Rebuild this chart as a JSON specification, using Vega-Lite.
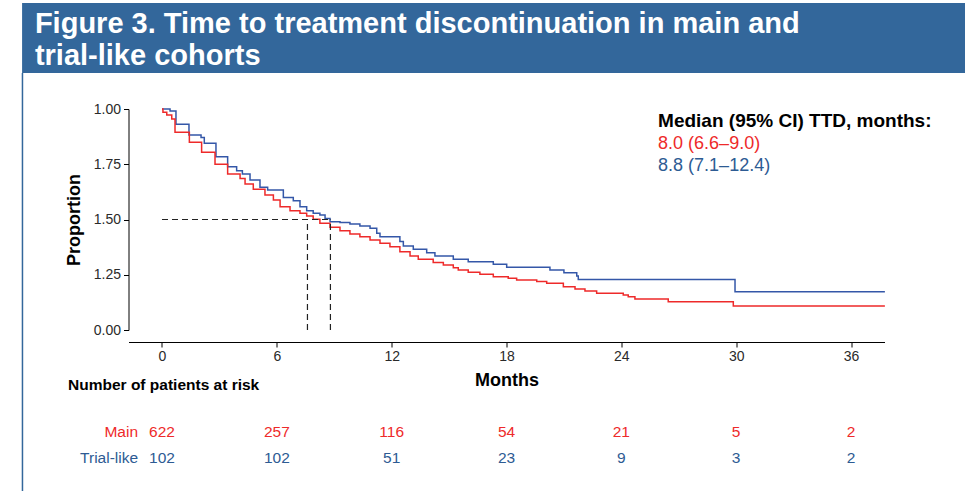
{
  "$schema": "https://vega.github.io/schema/vega-lite/v6.json",
  "width": 756,
  "height": 221,
  "autosize": {"type": "none"},
  "padding": {"left": 128.5, "top": 109, "right": 80.5, "bottom": 161},
  "background": "white",
  "config": {
    "view": {"stroke": null},
    "font": "Liberation Sans",
    "axis": {
      "domainColor": "#000000", "tickColor": "#000000", "labelColor": "#2a2a2a",
      "labelFont": "Liberation Sans", "labelFontSize": 14, "titleFont": "Liberation Sans",
      "titleFontSize": 18, "titleFontWeight": "bold", "titleColor": "#000000",
      "grid": false, "tickSize": 5, "labelFlush": false, "labelOverlap": false
    }
  },
  "datasets": {
    "one": [{}],
    "km": [
      {"group": "Trial-like", "month": 0, "prop": 1.0},
      {"group": "Trial-like", "month": 0.42, "prop": 0.991},
      {"group": "Trial-like", "month": 0.73, "prop": 0.931},
      {"group": "Trial-like", "month": 1.41, "prop": 0.882},
      {"group": "Trial-like", "month": 2.04, "prop": 0.871},
      {"group": "Trial-like", "month": 2.21, "prop": 0.845},
      {"group": "Trial-like", "month": 2.82, "prop": 0.784},
      {"group": "Trial-like", "month": 3.43, "prop": 0.739},
      {"group": "Trial-like", "month": 3.9, "prop": 0.721},
      {"group": "Trial-like", "month": 4.2, "prop": 0.706},
      {"group": "Trial-like", "month": 4.6, "prop": 0.679},
      {"group": "Trial-like", "month": 5.12, "prop": 0.646},
      {"group": "Trial-like", "month": 5.52, "prop": 0.633},
      {"group": "Trial-like", "month": 6.34, "prop": 0.6},
      {"group": "Trial-like", "month": 6.86, "prop": 0.585},
      {"group": "Trial-like", "month": 7.21, "prop": 0.558},
      {"group": "Trial-like", "month": 7.56, "prop": 0.54},
      {"group": "Trial-like", "month": 7.9, "prop": 0.528},
      {"group": "Trial-like", "month": 8.25, "prop": 0.52},
      {"group": "Trial-like", "month": 8.52, "prop": 0.505},
      {"group": "Trial-like", "month": 8.78, "prop": 0.49},
      {"group": "Trial-like", "month": 9.3, "prop": 0.486},
      {"group": "Trial-like", "month": 9.82, "prop": 0.48},
      {"group": "Trial-like", "month": 10.34, "prop": 0.471},
      {"group": "Trial-like", "month": 10.87, "prop": 0.46},
      {"group": "Trial-like", "month": 11.22, "prop": 0.438},
      {"group": "Trial-like", "month": 11.39, "prop": 0.422},
      {"group": "Trial-like", "month": 12.43, "prop": 0.4},
      {"group": "Trial-like", "month": 12.61, "prop": 0.38},
      {"group": "Trial-like", "month": 13.13, "prop": 0.365},
      {"group": "Trial-like", "month": 13.83, "prop": 0.35},
      {"group": "Trial-like", "month": 14.26, "prop": 0.335},
      {"group": "Trial-like", "month": 15.22, "prop": 0.32},
      {"group": "Trial-like", "month": 16.0, "prop": 0.309},
      {"group": "Trial-like", "month": 17.31, "prop": 0.297},
      {"group": "Trial-like", "month": 18.01, "prop": 0.284},
      {"group": "Trial-like", "month": 20.27, "prop": 0.271},
      {"group": "Trial-like", "month": 21.0, "prop": 0.259},
      {"group": "Trial-like", "month": 21.67, "prop": 0.244},
      {"group": "Trial-like", "month": 21.75, "prop": 0.229},
      {"group": "Trial-like", "month": 29.94, "prop": 0.173},
      {"group": "Trial-like", "month": 37.77, "prop": 0.173},
      {"group": "Main", "month": 0, "prop": 1.0},
      {"group": "Main", "month": 0.05, "prop": 0.985},
      {"group": "Main", "month": 0.25, "prop": 0.973},
      {"group": "Main", "month": 0.51, "prop": 0.955},
      {"group": "Main", "month": 0.68, "prop": 0.895},
      {"group": "Main", "month": 1.43, "prop": 0.849},
      {"group": "Main", "month": 2.07, "prop": 0.804},
      {"group": "Main", "month": 2.77, "prop": 0.75},
      {"group": "Main", "month": 3.43, "prop": 0.706},
      {"group": "Main", "month": 4.08, "prop": 0.686},
      {"group": "Main", "month": 4.34, "prop": 0.661},
      {"group": "Main", "month": 4.77, "prop": 0.637},
      {"group": "Main", "month": 5.38, "prop": 0.611},
      {"group": "Main", "month": 5.82, "prop": 0.588},
      {"group": "Main", "month": 6.17, "prop": 0.558},
      {"group": "Main", "month": 6.69, "prop": 0.54},
      {"group": "Main", "month": 7.21, "prop": 0.528},
      {"group": "Main", "month": 7.56, "prop": 0.516},
      {"group": "Main", "month": 7.9, "prop": 0.501},
      {"group": "Main", "month": 8.25, "prop": 0.483},
      {"group": "Main", "month": 8.78, "prop": 0.465},
      {"group": "Main", "month": 9.3, "prop": 0.449},
      {"group": "Main", "month": 9.82, "prop": 0.434},
      {"group": "Main", "month": 10.34, "prop": 0.422},
      {"group": "Main", "month": 10.87, "prop": 0.407},
      {"group": "Main", "month": 11.39, "prop": 0.392},
      {"group": "Main", "month": 11.91, "prop": 0.377},
      {"group": "Main", "month": 12.43, "prop": 0.354},
      {"group": "Main", "month": 12.96, "prop": 0.335},
      {"group": "Main", "month": 13.39, "prop": 0.32},
      {"group": "Main", "month": 14.17, "prop": 0.305},
      {"group": "Main", "month": 14.7, "prop": 0.294},
      {"group": "Main", "month": 15.22, "prop": 0.282},
      {"group": "Main", "month": 15.48, "prop": 0.271},
      {"group": "Main", "month": 16.0, "prop": 0.261},
      {"group": "Main", "month": 16.61, "prop": 0.252},
      {"group": "Main", "month": 17.31, "prop": 0.241},
      {"group": "Main", "month": 18.09, "prop": 0.234},
      {"group": "Main", "month": 18.53, "prop": 0.226},
      {"group": "Main", "month": 19.58, "prop": 0.219},
      {"group": "Main", "month": 20.1, "prop": 0.211},
      {"group": "Main", "month": 20.97, "prop": 0.196},
      {"group": "Main", "month": 21.58, "prop": 0.186},
      {"group": "Main", "month": 22.1, "prop": 0.176},
      {"group": "Main", "month": 22.71, "prop": 0.166},
      {"group": "Main", "month": 24.1, "prop": 0.158},
      {"group": "Main", "month": 24.36, "prop": 0.151},
      {"group": "Main", "month": 24.71, "prop": 0.14},
      {"group": "Main", "month": 26.45, "prop": 0.128},
      {"group": "Main", "month": 29.85, "prop": 0.109},
      {"group": "Main", "month": 37.77, "prop": 0.109}
    ],
    "medians": [
      {"group": "Main", "median": 7.6},
      {"group": "Trial-like", "median": 8.8}
    ],
    "risk": [
      {"group": "Main", "month": 0, "n": 622},
      {"group": "Main", "month": 6, "n": 257},
      {"group": "Main", "month": 12, "n": 116},
      {"group": "Main", "month": 18, "n": 54},
      {"group": "Main", "month": 24, "n": 21},
      {"group": "Main", "month": 30, "n": 5},
      {"group": "Main", "month": 36, "n": 2},
      {"group": "Trial-like", "month": 0, "n": 102},
      {"group": "Trial-like", "month": 6, "n": 102},
      {"group": "Trial-like", "month": 12, "n": 51},
      {"group": "Trial-like", "month": 18, "n": 23},
      {"group": "Trial-like", "month": 24, "n": 9},
      {"group": "Trial-like", "month": 30, "n": 3},
      {"group": "Trial-like", "month": 36, "n": 2}
    ]
  },
  "layer": [
    {
      "data": {"name": "one"},
      "mark": {"type": "rect", "color": "#33679b"},
      "encoding": {
        "x": {"datum": -7.31, "type": "quantitative"},
        "x2": {"datum": 41.96},
        "y": {"datum": 1.48, "type": "quantitative"},
        "y2": {"datum": 1.163}
      }
    },
    {
      "data": {"name": "one"},
      "mark": {"type": "rule", "color": "#33679b", "strokeWidth": 1.5},
      "encoding": {
        "x": {"datum": -7.29, "type": "quantitative"},
        "y": {"datum": 1.163, "type": "quantitative"},
        "y2": {"datum": -0.735}
      }
    },
    {
      "data": {"name": "one"},
      "mark": {"type": "text", "text": ["Figure 3. Time to treatment discontinuation in main and", "trial-like cohorts"], "align": "left", "baseline": "alphabetic", "fontSize": 29, "fontWeight": "bold", "color": "#ffffff", "lineHeight": 32},
      "encoding": {
        "x": {"datum": -6.64, "type": "quantitative"},
        "y": {"datum": 1.344, "type": "quantitative"}
      }
    },
    {
      "data": {"name": "km"},
      "mark": {"type": "line", "interpolate": "step-after", "strokeWidth": 1.5},
      "encoding": {
        "x": {
          "field": "month", "type": "quantitative",
          "scale": {"domain": [-1.75, 37.75], "nice": false, "zero": false},
          "axis": {"title": "Months", "values": [0, 6, 12, 18, 24, 30, 36], "offset": 12, "labelPadding": 2, "titlePadding": 8}
        },
        "y": {
          "field": "prop", "type": "quantitative",
          "scale": {"domain": [0, 1], "nice": false, "zero": false},
          "axis": {"title": "Proportion", "values": [0, 0.25, 0.5, 0.75, 1], "labelExpr": "datum.value == 0 ? '0.00' : '1' + substring(format(datum.value, '.2f'), 1)", "labelPadding": 3, "titlePadding": 10}
        },
        "color": {
          "field": "group", "type": "nominal",
          "scale": {"domain": ["Main", "Trial-like"], "range": ["#ee2a2a", "#3457a8"]},
          "legend": null
        }
      }
    },
    {
      "data": {"name": "one"},
      "mark": {"type": "rule", "color": "#222222", "strokeDash": [6, 4], "strokeWidth": 1.2},
      "encoding": {
        "x": {"datum": 0, "type": "quantitative"},
        "x2": {"datum": 8.8},
        "y": {"datum": 0.5, "type": "quantitative"}
      }
    },
    {
      "data": {"name": "medians"},
      "mark": {"type": "rule", "color": "#222222", "strokeDash": [6, 4], "strokeWidth": 1.2},
      "encoding": {
        "x": {"field": "median", "type": "quantitative"},
        "y": {"datum": 0, "type": "quantitative"},
        "y2": {"datum": 0.5}
      }
    },
    {
      "data": {"name": "one"},
      "mark": {"type": "text", "text": "Median (95% CI) TTD, months:", "align": "left", "baseline": "alphabetic", "fontSize": 19, "fontWeight": "bold", "color": "#000000"},
      "encoding": {
        "x": {"datum": 25.92, "type": "quantitative"},
        "y": {"datum": 0.919, "type": "quantitative"}
      }
    },
    {
      "data": {"name": "one"},
      "mark": {"type": "text", "text": "8.0 (6.6–9.0)", "align": "left", "baseline": "alphabetic", "fontSize": 18, "color": "#ee2a2a"},
      "encoding": {
        "x": {"datum": 25.92, "type": "quantitative"},
        "y": {"datum": 0.819, "type": "quantitative"}
      }
    },
    {
      "data": {"name": "one"},
      "mark": {"type": "text", "text": "8.8 (7.1–12.4)", "align": "left", "baseline": "alphabetic", "fontSize": 18, "color": "#2d5b93"},
      "encoding": {
        "x": {"datum": 25.92, "type": "quantitative"},
        "y": {"datum": 0.719, "type": "quantitative"}
      }
    },
    {
      "data": {"name": "one"},
      "mark": {"type": "text", "text": "Number of patients at risk", "align": "left", "baseline": "alphabetic", "fontSize": 15.5, "fontWeight": "bold", "color": "#000000"},
      "encoding": {
        "x": {"datum": -4.91, "type": "quantitative"},
        "y": {"datum": -0.2715, "type": "quantitative"}
      }
    },
    {
      "data": {"name": "one"},
      "mark": {"type": "text", "text": "Main", "align": "right", "baseline": "alphabetic", "fontSize": 15.5, "color": "#ee2a2a"},
      "encoding": {
        "x": {"datum": -1.25, "type": "quantitative"},
        "y": {"datum": -0.484, "type": "quantitative"}
      }
    },
    {
      "data": {"name": "one"},
      "mark": {"type": "text", "text": "Trial-like", "align": "right", "baseline": "alphabetic", "fontSize": 15.5, "color": "#2d5b93"},
      "encoding": {
        "x": {"datum": -1.25, "type": "quantitative"},
        "y": {"datum": -0.602, "type": "quantitative"}
      }
    },
    {
      "data": {"name": "risk"},
      "transform": [{"filter": "datum.group == 'Main'"}],
      "mark": {"type": "text", "align": "center", "baseline": "alphabetic", "fontSize": 15.5, "color": "#ee2a2a"},
      "encoding": {
        "x": {"field": "month", "type": "quantitative"},
        "y": {"datum": -0.484, "type": "quantitative"},
        "text": {"field": "n", "type": "quantitative"}
      }
    },
    {
      "data": {"name": "risk"},
      "transform": [{"filter": "datum.group == 'Trial-like'"}],
      "mark": {"type": "text", "align": "center", "baseline": "alphabetic", "fontSize": 15.5, "color": "#2d5b93"},
      "encoding": {
        "x": {"field": "month", "type": "quantitative"},
        "y": {"datum": -0.602, "type": "quantitative"},
        "text": {"field": "n", "type": "quantitative"}
      }
    }
  ]
}
